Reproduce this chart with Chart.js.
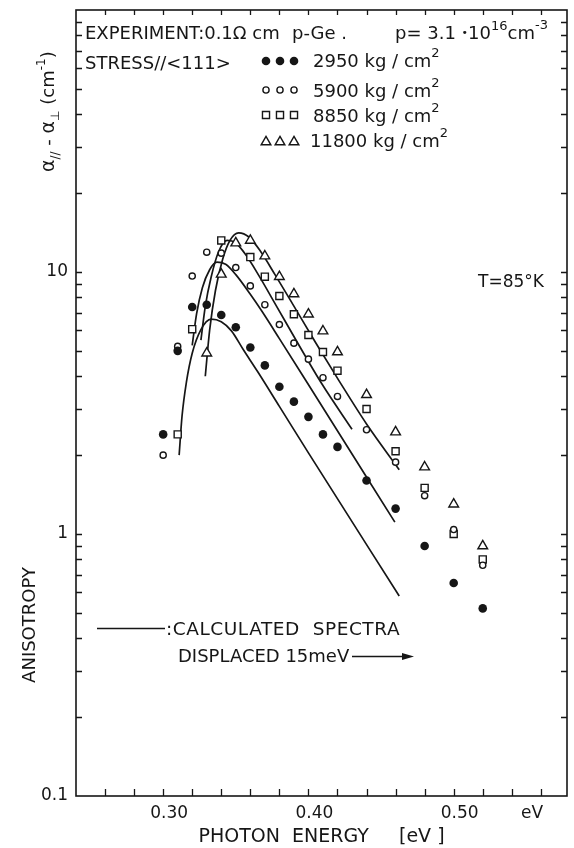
<!DOCTYPE html>
<html>
<head>
<meta charset="utf-8">
<script src="https://cdn.jsdelivr.net/npm/chart.js@4.4.1/dist/chart.umd.min.js"></script>
<style>
  html, body { margin: 0; padding: 0; background: #fff; }
  #wrap { width: 574px; height: 848px; }
</style>
</head>
<body>
<div id="wrap"><canvas id="chart" width="574" height="848"></canvas></div>
<script>
// photon energies (eV) of the measured points
const energy = [0.30, 0.31, 0.32, 0.33, 0.34, 0.35, 0.36, 0.37, 0.38, 0.39, 0.40, 0.41, 0.42, 0.44, 0.46, 0.48, 0.50, 0.52];

// measured anisotropy (cm^-1) per stress, null where there is no point
const stress2950  = [2.4, 5.0, 7.35, 7.5, 6.85, 6.15, 5.15, 4.4, 3.65, 3.2, 2.8, 2.4, 2.15, 1.6, 1.25, 0.9, 0.65, 0.52];
const stress5900  = [2.0, 5.2, 9.65, 11.9, 11.8, 10.4, 8.85, 7.5, 6.3, 5.35, 4.65, 3.95, 3.35, 2.5, 1.88, 1.4, 1.04, 0.76];
const stress8850  = [null, 2.4, 6.05, null, 13.2, null, 11.4, 9.6, 8.1, 6.9, 5.75, 4.95, 4.2, 3.0, 2.07, 1.5, 1.0, 0.8];
const stress11800 = [null, null, null, 4.9, 9.8, 12.9, 13.2, 11.5, 9.6, 8.25, 6.9, 5.95, 4.95, 3.4, 2.45, 1.8, 1.3, 0.9];

// calculated spectra (displaced 15 meV)
const calcA_energy = [0.311, 0.313, 0.316, 0.320, 0.326, 0.333, 0.340, 0.347, 0.355, 0.365, 0.38, 0.40, 0.4625];
const calcA_value  = [2.0, 2.82, 3.8, 4.9, 6.03, 6.61, 6.46, 5.96, 5.07, 4.17, 3.07, 2.04, 0.58];
const calcB_energy = [0.320, 0.323, 0.327, 0.332, 0.337, 0.343, 0.350, 0.360, 0.368, 0.38, 0.398, 0.4595];
const calcB_value  = [5.25, 6.92, 8.71, 10.2, 10.9, 10.7, 9.77, 8.22, 7.08, 5.57, 3.87, 1.11];
const calcC_energy = [0.326, 0.329, 0.333, 0.338, 0.344, 0.350, 0.357, 0.366, 0.378, 0.392, 0.409, 0.43];
const calcC_value  = [5.5, 7.4, 9.55, 11.9, 13.2, 12.9, 11.6, 9.66, 7.41, 5.43, 3.76, 2.51];
const calcD_energy = [0.329, 0.332, 0.336, 0.341, 0.346, 0.352, 0.359, 0.367, 0.377, 0.39, 0.405, 0.421, 0.44, 0.4625];
const calcD_value  = [4.0, 6.0, 8.5, 11.2, 13.2, 14.1, 13.6, 12.0, 9.77, 7.41, 5.37, 3.85, 2.63, 1.76];

// axes
const xTickValues = [0.26, 0.28, 0.30, 0.32, 0.34, 0.36, 0.38, 0.40, 0.42, 0.44, 0.46, 0.48, 0.50, 0.52, 0.54, 0.56];
const xTickLabels = ['0.30', '0.40', '0.50'];
const yTickValues = [0.1, 0.2, 0.3, 0.4, 0.5, 0.6, 0.7, 0.8, 0.9, 1, 2, 3, 4, 5, 6, 7, 8, 9, 10, 20, 30, 40, 50, 60, 70, 80, 90, 100];
const yTickLabels = ['0.1', '1', '10'];

const ink = '#161616';
const FONT = '"DejaVu Sans", sans-serif';

const points = (xs, ys) => xs.map((x, i) => ({ x, y: ys[i] })).filter(p => p.y !== null);

const markerStyles = [
  { pointStyle: 'circle',   radius: 4.3, fill: ink,    borderWidth: 0 },
  { pointStyle: 'circle',   radius: 3.1, fill: '#fff', borderWidth: 1.4 },
  { pointStyle: 'rect',     radius: 5.0, fill: '#fff', borderWidth: 1.4 },
  { pointStyle: 'triangle', radius: 5.6, fill: '#fff', borderWidth: 1.4 }
];

function measured(series, style) {
  return {
    data: points(energy, series),
    showLine: false,
    pointStyle: style.pointStyle,
    pointRadius: style.radius,
    pointHoverRadius: style.radius,
    pointBackgroundColor: style.fill,
    pointBorderColor: ink,
    pointBorderWidth: style.borderWidth
  };
}

function calculated(xs, ys) {
  return {
    data: points(xs, ys),
    showLine: true,
    borderColor: ink,
    borderWidth: 1.7,
    pointRadius: 0,
    cubicInterpolationMode: 'monotone'
  };
}

// draws a row of text pieces: [text, size, raise]
function textRun(ctx, x, y, pieces) {
  pieces.forEach(([t, size, raise]) => {
    ctx.font = size + 'px ' + FONT;
    ctx.fillText(t, x, y - (raise || 0));
    x += ctx.measureText(t).width;
  });
}

function drawMarker(ctx, style, x, y) {
  ctx.save();
  ctx.fillStyle = style.fill;
  ctx.strokeStyle = ink;
  ctx.lineWidth = style.borderWidth;
  Chart.helpers.drawPoint(ctx, {
    pointStyle: style.pointStyle, radius: style.radius, rotation: 0, borderWidth: style.borderWidth
  }, x, y);
  ctx.restore();
}

const decor = {
  id: 'decor',
  afterDraw(chart) {
    const { ctx, chartArea: a, scales: { x, y } } = chart;
    ctx.save();
    ctx.strokeStyle = ink;
    ctx.fillStyle = ink;

    // frame with inward ticks on all sides
    ctx.lineWidth = 1.6;
    ctx.strokeRect(a.left, a.top, a.right - a.left, a.bottom - a.top);
    ctx.lineWidth = 1.3;
    ctx.beginPath();
    xTickValues.forEach(v => {
      const px = Math.round(x.getPixelForValue(v)) + 0.5;
      ctx.moveTo(px, a.bottom); ctx.lineTo(px, a.bottom - 7);
      ctx.moveTo(px, a.top); ctx.lineTo(px, a.top + 5);
    });
    yTickValues.slice(1, -1).forEach(v => {
      const py = Math.round(y.getPixelForValue(v)) + 0.5;
      ctx.moveTo(a.left, py); ctx.lineTo(a.left + 6, py);
      ctx.moveTo(a.right, py); ctx.lineTo(a.right - 6, py);
    });
    ctx.stroke();

    // header block
    ctx.textAlign = 'left';
    ctx.textBaseline = 'alphabetic';
    textRun(ctx, 85, 39, [['EXPERIMENT:0.1\u03A9 cm', 18]]);
    textRun(ctx, 292, 39, [['p-Ge .', 18]]);
    textRun(ctx, 395, 39, [['p= 3.1 ', 18], ['\u2022', 11, 3], ['10', 18], ['16', 13, 9], ['cm', 18], ['-3', 13, 10]]);
    textRun(ctx, 85, 69, [['STRESS//<111>', 18]]);

    const rows = [['2950', 67, 61], ['5900', 97, 90], ['8850', 122, 115], ['11800', 147, 142]];
    rows.forEach(([load, base, my], i) => {
      textRun(ctx, i === 3 ? 310 : 313, base, [[load + ' kg / cm', 18], ['2', 13, 10]]);
      [266, 280, 294].forEach(mx => drawMarker(ctx, markerStyles[i], mx, my));
    });

    textRun(ctx, 478, 287, [['T=85\u00B0K', 17]]);

    // line legend and displacement note
    ctx.lineWidth = 1.5;
    ctx.beginPath();
    ctx.moveTo(97, 628.5); ctx.lineTo(165, 628.5);
    ctx.moveTo(352, 656.5); ctx.lineTo(405, 656.5);
    ctx.stroke();
    ctx.beginPath();
    ctx.moveTo(414, 656.5); ctx.lineTo(402, 653); ctx.lineTo(402, 660); ctx.closePath();
    ctx.fill();
    ctx.save();
    ctx.letterSpacing = '0.55px';
    textRun(ctx, 166, 635, [[':CALCULATED  SPECTRA', 18.5]]);
    ctx.restore();
    textRun(ctx, 178, 662, [['DISPLACED 15meV', 18]]);

    // end-of-axis unit
    textRun(ctx, 521, 818, [['eV', 17]]);

    // y-axis titles, written bottom to top
    ctx.save();
    ctx.translate(30, 625);
    ctx.rotate(-Math.PI / 2);
    ctx.textAlign = 'center';
    ctx.textBaseline = 'middle';
    ctx.font = '18px ' + FONT;
    ctx.fillText('ANISOTROPY', 0, 0);
    ctx.restore();

    ctx.save();
    ctx.translate(54, 172);
    ctx.rotate(-Math.PI / 2);
    ctx.textAlign = 'left';
    textRun(ctx, 0, 0, [['\u03B1', 19], ['//', 12, -5], [' - ', 18], ['\u03B1', 19], ['\u22A5', 12, -5], [' (cm', 18], ['-1', 12, 9], [')', 18]]);
    ctx.restore();

    ctx.restore();
  }
};

new Chart(document.getElementById('chart'), {
  type: 'scatter',
  data: {
    datasets: [
      measured(stress2950, markerStyles[0]),
      measured(stress5900, markerStyles[1]),
      measured(stress8850, markerStyles[2]),
      measured(stress11800, markerStyles[3]),
      calculated(calcA_energy, calcA_value),
      calculated(calcB_energy, calcB_value),
      calculated(calcC_energy, calcC_value),
      calculated(calcD_energy, calcD_value)
    ]
  },
  options: {
    responsive: false,
    animation: false,
    devicePixelRatio: 1,
    layout: { padding: { top: 10, right: 1, left: 0, bottom: 0 } },
    plugins: { legend: { display: false }, tooltip: { enabled: false } },
    scales: {
      x: {
        type: 'linear',
        min: 0.24,
        max: 0.578,
        afterFit: s => { s.height = 52; s.paddingLeft = 0; s.paddingRight = 0; },
        afterBuildTicks: s => { s.ticks = xTickValues.map(value => ({ value })); },
        grid: { display: false, drawTicks: false },
        border: { display: false },
        ticks: {
          autoSkip: false,
          maxRotation: 0,
          padding: 7,
          labelOffset: 6,
          color: ink,
          font: { family: FONT, size: 17 },
          callback: v => xTickLabels.find(l => Math.abs(Number(l) - v) < 1e-6) || ''
        },
        title: {
          display: true,
          text: 'PHOTON  ENERGY     [eV ]',
          color: ink,
          font: { family: FONT, size: 19 },
          padding: { top: 0, bottom: 0 }
        }
      },
      y: {
        type: 'logarithmic',
        min: 0.1,
        max: 100,
        afterFit: s => { s.width = 76; s.paddingTop = 0; s.paddingBottom = 0; },
        afterBuildTicks: s => { s.ticks = yTickValues.map(value => ({ value })); },
        grid: { display: false, drawTicks: false },
        border: { display: false },
        ticks: {
          autoSkip: false,
          padding: 8,
          color: ink,
          font: { family: FONT, size: 17 },
          callback: v => yTickLabels.find(l => Math.abs(Number(l) - v) < 1e-9 * v + 1e-12) || ''
        }
      }
    }
  },
  plugins: [decor]
});
</script>
</body>
</html>
